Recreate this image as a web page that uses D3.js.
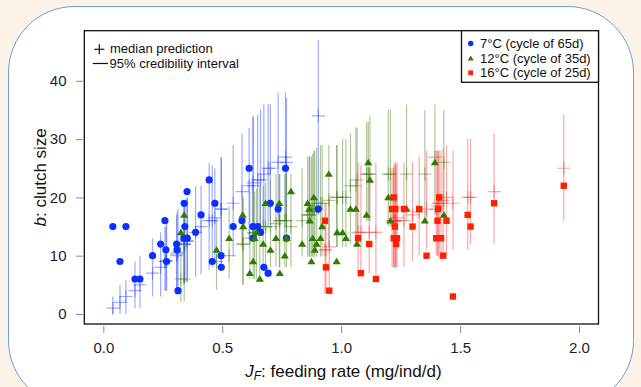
<!DOCTYPE html>
<html>
<head>
<meta charset="utf-8">
<script src="https://cdn.jsdelivr.net/npm/d3@7"></script>
<style>
  html, body { margin: 0; padding: 0; background: #fcf3e8; }
  svg { display: block; font-family: "Liberation Sans", Arial, Helvetica, sans-serif; }
</style>
</head>
<body>
<svg id="chart" width="641" height="387"></svg>
<script>
// ---------------- DATA ----------------
const xTicks = [0, 0.5, 1, 1.5, 2];
const xTickLabels = ["0.0", "0.5", "1.0", "1.5", "2.0"];
const yTicks = [0, 10, 20, 30, 40];

const seriesNames = ["7°C (cycle of 65d)", "12°C (cycle of 35d)", "16°C (cycle of 25d)"];

// 7°C
const blueX   = [0.040,0.070,0.095,0.133,0.154,0.207,0.241,0.259,0.263,0.266,0.308,0.310,0.314,0.339,0.343,0.340,0.352,0.353,0.388,0.411,0.445,0.458,0.469,0.495,0.496,0.546,0.583,0.613,0.629,0.630,0.649,0.661,0.675,0.693,0.702,0.735,0.766,0.770,0.904];
const blueObs = [15,9,15,6,6,10,12,16,11,9,12,11,4,13,15,19,21,13,14,17,23,9,19,10,8,15,16,25,15,13,15,14,8,7,19,18,25,13,18];
const blueMed = [1.0,2.0,3.0,4.0,5.0,7.0,8.0,9.0,9.0,9.2,10.0,10.3,10.6,12.0,12.0,12.0,12.5,12.5,14.0,15.0,16.0,16.0,16.5,18.0,18.0,19.0,21.0,22.0,22.0,22.5,23.0,23.0,24.0,25.0,25.0,26.0,26.9,26.0,34.0];
const blueLo  = [0.0,0.0,0.0,1.0,1.0,3.0,3.0,4.0,4.0,4.0,4.0,4.5,4.5,5.3,5.3,5.3,5.5,5.5,6.4,6.8,7.6,8.0,9.0,8.5,8.5,9.8,11.6,12.7,12.7,13.0,13.5,14.0,15.0,15.0,16.0,16.0,16.0,14.0,17.0];
const blueHi  = [3.0,5.0,5.8,9.0,10.0,13.0,14.0,15.0,15.0,15.5,17.0,17.5,18.0,19.0,19.0,19.5,20.0,20.0,22.0,22.0,25.9,25.5,25.0,26.9,26.9,29.0,30.9,31.9,33.9,33.9,34.2,35.0,36.0,36.0,36.0,38.0,38.0,37.0,47.0];

// 12°C
const greenX   = [0.326,0.340,0.476,0.529,0.586,0.588,0.616,0.630,0.644,0.636,0.658,0.672,0.682,0.703,0.726,0.740,0.742,0.763,0.770,0.789,0.836,0.859,0.868,0.866,0.875,0.880,0.885,0.889,0.897,0.913,0.920,0.948,0.981,0.983,1.006,1.020,1.039,1.062,1.067,1.107,1.114,1.121,1.198,1.207,1.275,1.352,1.394,1.432];
const greenObs = [14,17,11,13,17,15,7,9,14,13,6,12,19,11,13,19,7,10,13,21,12,19,16,18,9,13,20,11,12,13,15,24,9,14,14,13,18,18,12,17,26,23,20,16,18,16,26,17];
const greenMed = [6.0,6.0,9.0,10.0,12.0,12.0,13.0,13.9,14.0,13.9,14.5,15.0,15.0,15.0,15.5,16.0,16.0,16.0,16.0,15.0,16.0,17.0,17.0,17.0,17.5,18.0,18.0,18.5,19.0,19.0,19.0,19.5,20.0,20.0,20.0,20.0,22.0,22.0,23.0,24.0,24.0,24.0,24.0,24.0,24.0,24.0,26.9,26.0];
const greenLo  = [2.0,2.1,4.1,6.1,5.0,5.0,6.0,6.0,6.0,6.0,6.1,8.1,8.1,8.1,8.1,8.0,8.0,8.0,8.0,8.0,9.8,9.8,9.8,9.8,9.8,9.8,9.8,9.8,9.8,9.8,10.0,11.5,11.5,11.5,11.5,11.5,12.0,12.0,12.0,16.0,16.0,16.0,15.0,15.0,16.0,16.0,17.0,17.0];
const greenHi  = [14.5,17.0,16.5,18.5,20.0,20.0,21.0,21.0,21.5,21.0,22.0,22.0,22.5,23.0,24.0,24.0,24.0,24.0,24.0,24.0,25.0,27.0,27.0,27.0,27.0,27.5,28.0,28.0,28.5,29.0,29.0,29.0,29.0,29.0,30.0,30.0,31.0,32.0,32.0,33.0,33.0,34.0,35.0,35.0,35.9,35.0,36.0,35.0];

// 16°C
const redX   = [0.932,0.936,0.950,1.071,1.083,1.118,1.146,1.214,1.221,1.228,1.226,1.221,1.235,1.231,1.264,1.300,1.328,1.359,1.400,1.405,1.408,1.412,1.420,1.429,1.443,1.470,1.532,1.544,1.643,1.936];
const redObs = [16,8,4,13,7,12,6,18,20,18,15,13,13,12,18,15,18,10,13,16,18,20,13,10,16,3,17,15,19,22];
const redMed = [11.0,11.0,11.5,14.0,14.0,14.0,14.0,16.0,16.0,16.0,16.0,16.0,16.5,16.0,16.0,17.0,17.5,18.0,18.0,18.5,19.0,19.0,19.0,19.5,20.0,19.0,20.0,20.0,21.0,25.0];
const redLo  = [3.5,3.5,4.0,7.0,7.0,7.0,6.0,8.0,8.0,8.0,8.0,8.0,8.0,8.0,8.1,9.0,10.0,11.0,10.0,10.0,10.0,9.5,10.0,10.0,10.0,11.0,11.0,12.0,12.0,16.0];
const redHi  = [19.0,19.0,20.0,26.0,25.5,25.0,26.0,25.0,25.5,26.0,26.0,25.0,26.0,25.5,26.0,26.0,27.0,28.0,28.0,28.0,28.0,28.0,28.0,28.5,29.0,28.0,30.0,30.0,30.9,34.2];

// ---------------- CHART ----------------
const svg = d3.select("#chart");
const W = 641, H = 387;

svg.append("rect").attr("width", W).attr("height", H).attr("fill", "#fcf3e8");
svg.append("rect")
  .attr("x", 8.5).attr("y", 6.5).attr("width", 625).attr("height", 400)
  .attr("rx", 66).attr("ry", 66)
  .attr("fill", "#ffffff").attr("stroke", "#6b9fd9").attr("stroke-width", 1);

const x = d3.scaleLinear().domain([-0.08, 2.082]).range([84.3, 598.5]);
const y = d3.scaleLinear().domain([-1.72, 48.6]).range([324, 30.7]);

const [bx0, bx1] = x.range();
const [by1, by0] = y.range();

const groups = [
  { name: seriesNames[0], xs: blueX, obs: blueObs, med: blueMed, lo: blueLo, hi: blueHi,
    line: "#2a45ff", lineOp: 0.45, mark: "#0a30ff", shape: "circle" },
  { name: seriesNames[1], xs: greenX, obs: greenObs, med: greenMed, lo: greenLo, hi: greenHi,
    line: "#3f7a12", lineOp: 0.42, mark: "#2f7d00", shape: "triangle" },
  { name: seriesNames[2], xs: redX, obs: redObs, med: redMed, lo: redLo, hi: redHi,
    line: "#ff2a2a", lineOp: 0.42, mark: "#ff2000", shape: "square" }
];

const plot = svg.append("g");
plot.append("defs").append("clipPath").attr("id", "clip")
  .append("rect").attr("x", bx0).attr("y", by0).attr("width", bx1 - bx0).attr("height", by1 - by0);
const inner = plot.append("g").attr("clip-path", "url(#clip)");

// intervals & median crosses
groups.forEach(g => {
  const gg = inner.append("g").attr("stroke", g.line).attr("stroke-opacity", g.lineOp).attr("stroke-width", 1.2);
  g.xs.forEach((xv, i) => {
    gg.append("line")
      .attr("x1", x(xv)).attr("x2", x(xv))
      .attr("y1", y(g.lo[i])).attr("y2", y(g.hi[i]));
    const cx = x(xv), cy = y(g.med[i]), a = 6.5;
    gg.append("line").attr("x1", cx - a).attr("x2", cx + a).attr("y1", cy).attr("y2", cy);
    gg.append("line").attr("x1", cx).attr("x2", cx).attr("y1", cy - a).attr("y2", cy + a);
  });
});

function drawMarker(sel, shape, cx, cy, color, s) {
  if (shape === "circle") {
    sel.append("circle").attr("cx", cx).attr("cy", cy).attr("r", 3.6 * s).attr("fill", color);
  } else if (shape === "triangle") {
    const w = 4.1 * s, h = 3.7 * s;
    sel.append("path")
      .attr("d", `M${cx},${cy - h} L${cx + w},${cy + h * 0.75} L${cx - w},${cy + h * 0.75} Z`)
      .attr("fill", color);
  } else {
    const h = 3.2 * s;
    sel.append("rect").attr("x", cx - h).attr("y", cy - h).attr("width", 2 * h).attr("height", 2 * h).attr("fill", color);
  }
}

// observed points
groups.forEach(g => {
  const gg = inner.append("g");
  g.xs.forEach((xv, i) => drawMarker(gg, g.shape, x(xv), y(g.obs[i]), g.mark, 1));
});

// plot box
svg.append("rect").attr("x", bx0).attr("y", by0).attr("width", bx1 - bx0).attr("height", by1 - by0)
  .attr("fill", "none").attr("stroke", "#111").attr("stroke-width", 1.3);

// axes
const xAxis = svg.append("g").attr("transform", `translate(0,${by1 + 2})`)
  .call(d3.axisBottom(x).tickValues(xTicks).tickFormat((d, i) => xTickLabels[i]).tickSize(7).tickPadding(9));
const yAxis = svg.append("g").attr("transform", `translate(${bx0 - 1.3},0)`)
  .call(d3.axisLeft(y).tickValues(yTicks).tickSize(7).tickPadding(9.5));
[xAxis, yAxis].forEach(a => {
  a.select(".domain").remove();
  a.selectAll(".tick line").attr("stroke", "#8a8a8a").attr("stroke-width", 1);
  a.selectAll(".tick text").attr("fill", "#222").style("font-size", "15px")
    .style("font-family", '"Liberation Sans", Arial, sans-serif');
});

// axis titles
const xt = svg.append("text").attr("x", (bx0 + bx1) / 2 + 2).attr("y", 377)
  .attr("text-anchor", "middle").attr("fill", "#111").style("font-size", "17px");
xt.append("tspan").style("font-style", "italic").text("J");
xt.append("tspan").style("font-style", "italic").style("font-size", "12px").attr("dy", 3).text("F");
xt.append("tspan").attr("dy", -3).text(": feeding rate (mg/ind/d)");

const yt = svg.append("text")
  .attr("transform", `translate(46,${(by0 + by1) / 2}) rotate(-90)`)
  .attr("text-anchor", "middle").attr("fill", "#111").style("font-size", "17px");
yt.append("tspan").style("font-style", "italic").text("b");
yt.append("tspan").text(": clutch size");

// top-left legend
const lg1 = svg.append("g").style("font-size", "13px").attr("fill", "#111");
lg1.append("line").attr("x1", 94.3).attr("x2", 104.3).attr("y1", 49.3).attr("y2", 49.3).attr("stroke", "#111").attr("stroke-width", 1.2);
lg1.append("line").attr("x1", 99.3).attr("x2", 99.3).attr("y1", 44.3).attr("y2", 54.3).attr("stroke", "#111").attr("stroke-width", 1.2);
lg1.append("text").attr("x", 110).attr("y", 53).text("median prediction");
lg1.append("line").attr("x1", 92.7).attr("x2", 108).attr("y1", 63.5).attr("y2", 63.5).attr("stroke", "#111").attr("stroke-width", 1.2);
lg1.append("text").attr("x", 109.5).attr("y", 68).text("95% credibility interval");

// top-right legend
const lgx0 = 461.5, lgy0 = by0, lgy1 = 82.3;
svg.append("rect").attr("x", lgx0).attr("y", lgy0).attr("width", bx1 - lgx0).attr("height", lgy1 - lgy0)
  .attr("fill", "#fff").attr("stroke", "#111").attr("stroke-width", 1.3);
const lg2 = svg.append("g").style("font-size", "13px").attr("fill", "#111");
const lgY = [43.5, 58.3, 72.8];
groups.forEach((g, i) => {
  drawMarker(lg2, g.shape, 470.7, lgY[i], g.mark, 0.75);
  lg2.append("text").attr("x", 480).attr("y", lgY[i] + 4.6).text(g.name);
});
</script>
</body>
</html>
